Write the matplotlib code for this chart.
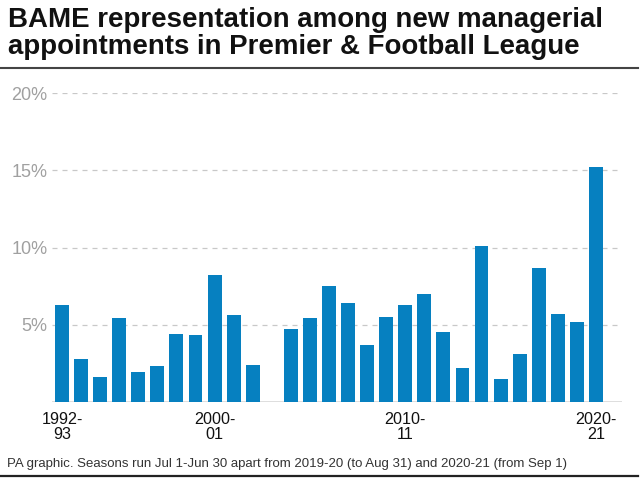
import matplotlib
matplotlib.use("Agg")
import matplotlib.pyplot as plt
import numpy as np

seasons = [f"{y}-{str(y + 1)[-2:]}" for y in range(1992, 2021)]
values = [6.3, 2.8, 1.6, 5.4, 1.9, 2.3, 4.4, 4.3, 8.2, 5.6, 2.4,
          None,
          4.7, 5.4, 7.5, 6.4, 3.7, 5.5, 6.3, 7.0, 4.5, 2.2, 10.1,
          1.5, 3.1, 8.7, 5.7, 5.2, 15.2]
labelled_seasons = ["1992-93", "2000-01", "2010-11", "2020-21"]
y_ticks = [5, 10, 15, 20]

title_lines = ["BAME representation among new managerial",
               "appointments in Premier & Football League"]
footer = "PA graphic. Seasons run Jul 1-Jun 30 apart from 2019-20 (to Aug 31) and 2020-21 (from Sep 1)"

BLUE = "#0680c0"
FONT = ["Liberation Sans", "DejaVu Sans"]

fig = plt.figure(figsize=(6.4, 4.84), dpi=100)
ax = fig.add_axes([51.7 / 640, 1 - 401.7 / 484, 570 / 640, (401.7 - 93.3) / 484])

xs = [i for i, v in enumerate(values) if v is not None]
hs = [v for v in values if v is not None]
ax.bar(xs, hs, width=0.73, color=BLUE, zorder=3)

ax.set_xlim(-0.54, 29.35)
ax.set_ylim(0, 20)

for t in y_ticks:
    ax.axhline(t, color="#c8c8c8", lw=0.9, dashes=(4, 4), zorder=1)
ax.axhline(0, color="#d8d8d8", lw=1.2, zorder=2)

ax.set_yticks(y_ticks)
ax.set_yticklabels([f"{t}%" for t in y_ticks], fontsize=13, color="#a0a0a0", family=FONT)
ax.tick_params(axis="y", length=0, pad=3)

tick_pos = [seasons.index(s) for s in labelled_seasons]
ax.set_xticks(tick_pos)
ax.set_xticklabels([s.replace("-", "-\n") for s in labelled_seasons], fontsize=11.6,
                   color="#111111", family=FONT, linespacing=1.02)
ax.tick_params(axis="x", length=0, pad=7.5)

for sp in ax.spines.values():
    sp.set_visible(False)

for line, base in zip(title_lines, [27.0, 54.5]):
    fig.text(8 / 640, 1 - base / 484, line, fontsize=19.9, fontweight="bold", color="#111111",
             family=FONT, ha="left", va="baseline")
fig.lines.append(plt.Line2D([0, 638 / 640], [1 - 67.7 / 484] * 2, transform=fig.transFigure,
                            color="#444444", lw=1.5))
fig.text(7 / 640, 1 - 466.7 / 484, footer, fontsize=9.5, color="#333333",
         family=FONT, ha="left", va="baseline")
fig.lines.append(plt.Line2D([0, 638 / 640], [1 - 475.5 / 484] * 2, transform=fig.transFigure,
                            color="#222222", lw=1.6))

fig.savefig("out.png", dpi=100)
